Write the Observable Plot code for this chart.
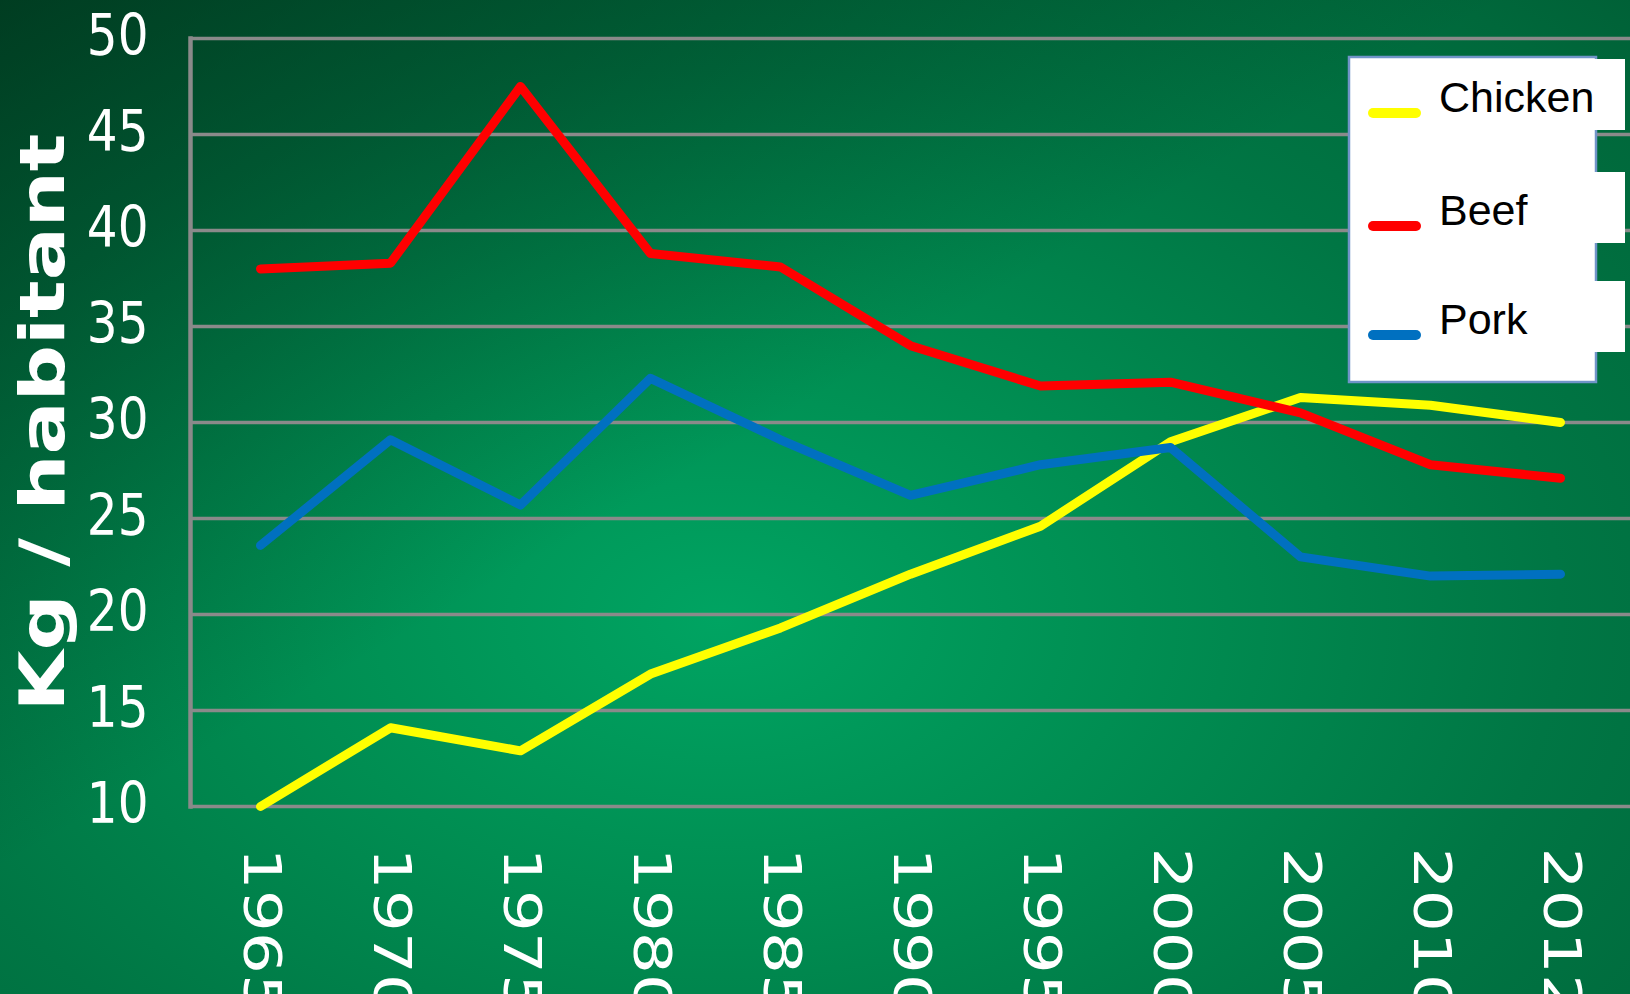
<!DOCTYPE html>
<html>
<head>
<meta charset="utf-8">
<script src="https://cdn.jsdelivr.net/npm/d3@7"></script>
<script src="https://cdn.jsdelivr.net/npm/@observablehq/plot@0.6"></script>
<style>
  html, body { margin: 0; padding: 0; overflow: hidden; background: #004a2a; }
  #wrap {
    position: relative; width: 1630px; height: 994px; overflow: hidden;
    background:
      linear-gradient(150deg, rgba(0,25,12,0.55) 0%, rgba(0,25,12,0) 45%),
      radial-gradient(ellipse 1400px 920px at 720px 620px,
        #00a462 0%, #008e52 30%, #007644 60%, #00683b 85%, #005c34 100%);
  }
  #wrap svg { position: absolute; left: 0; top: 0; }
</style>
</head>
<body>
<div id="wrap"></div>
<script>
// ---- data ----
const years   = ["1965","1970","1975","1980","1985","1990","1995","2000","2005","2010","2012"];
const chicken = [10.0, 14.1, 12.9, 16.9, 19.3, 22.1, 24.6, 29.0, 31.3, 30.9, 30.0];
const beef    = [38.0, 38.3, 47.5, 38.8, 38.1, 34.0, 31.9, 32.1, 30.5, 27.8, 27.1];
const pork    = [23.6, 29.1, 25.7, 32.3, 29.1, 26.2, 27.8, 28.7, 23.0, 22.0, 22.1];
const series  = ["Chicken", "Beef", "Pork"];
const colors  = ["#ffff00", "#ff0000", "#0070c0"];
const yTicks  = [10, 15, 20, 25, 30, 35, 40, 45, 50];
const yTitle  = "Kg / habitant";

const seriesValues = [chicken, beef, pork];
const rows = series.flatMap((s, i) =>
  seriesValues[i].map((v, j) => ({ year: years[j], value: v, series: s })));

const plot = Plot.plot({
  width: 1630,
  height: 994,
  marginLeft: 190,
  marginRight: 0,
  marginTop: 38,
  marginBottom: 188,
  style: { background: "transparent", overflow: "visible" },
  x: { type: "point", domain: years, padding: 0.5 },
  y: { domain: [10, 50] },
  color: { domain: series, range: colors },
  marks: [
    Plot.ruleY(yTicks, { stroke: "#8a8a8a", strokeWidth: 3.5 }),
    Plot.frame({ anchor: "left", stroke: "#8a8a8a", strokeWidth: 4.5 }),
    Plot.axisY({
      ticks: yTicks, tickSize: 0, tickPadding: 42, fontSize: 57,
      fill: "white", fontFamily: "DejaVu Sans", label: null, dy: -2
    }),
    Plot.axisX({
      tickRotate: 90, tickSize: 0, tickPadding: 41, fontSize: 51,
      textAnchor: "start", lineAnchor: "middle",
      fill: "white", fontFamily: "DejaVu Sans", label: null
    }),
    Plot.text([yTitle], {
      text: d => d, frameAnchor: "left", textAnchor: "middle",
      dx: -147, dy: 0, rotate: -90,
      fontSize: 63, fontWeight: "bold", fill: "white", fontFamily: "DejaVu Sans"
    }),
    Plot.line(rows, {
      x: "year", y: "value", z: "series", stroke: "series",
      strokeWidth: 9, strokeLinejoin: "round", strokeLinecap: "round"
    })
  ]
});

// stretch / squeeze text like the reference image
function scaleText(selection, sx) {
  selection.each(function () {
    const t = this.getAttribute("transform");
    if (t) {
      this.setAttribute("transform", t + ` scale(${sx},1)`);
    } else {
      const x = this.getAttribute("x") || 0, y = this.getAttribute("y") || 0;
      this.removeAttribute("x"); this.removeAttribute("y");
      this.setAttribute("transform", `translate(${x},${y}) scale(${sx},1)`);
    }
  });
}
const sel = d3.select(plot);
scaleText(sel.selectAll('g[aria-label="x-axis tick label"] text'), 1.3);
scaleText(sel.selectAll('g[aria-label="y-axis tick label"] text'), 0.85);
scaleText(sel.selectAll("text").filter(function () { return this.textContent === yTitle; }), 1.25);

const wrap = document.getElementById("wrap");
wrap.appendChild(plot);

// ---- legend overlay ----
const lg = d3.create("svg").attr("width", 1630).attr("height", 994);
lg.append("rect")
  .attr("x", 1349).attr("y", 57).attr("width", 247).attr("height", 325)
  .attr("fill", "white").attr("stroke", "#7094c8").attr("stroke-width", 2.5);
const entryTop = [59, 172, 281];
series.forEach((s, i) => {
  const top = entryTop[i];
  lg.append("rect").attr("x", 1436).attr("y", top).attr("width", 189).attr("height", 71).attr("fill", "white");
  lg.append("line")
    .attr("x1", 1373).attr("x2", 1416).attr("y1", top + 54).attr("y2", top + 54)
    .attr("stroke", colors[i]).attr("stroke-width", 10).attr("stroke-linecap", "round");
  lg.append("text")
    .attr("x", 1439).attr("y", top + 53)
    .attr("font-family", "Liberation Sans, Arial, sans-serif").attr("font-size", 43)
    .attr("fill", "black").text(s);
});
wrap.appendChild(lg.node());
</script>
</body>
</html>
